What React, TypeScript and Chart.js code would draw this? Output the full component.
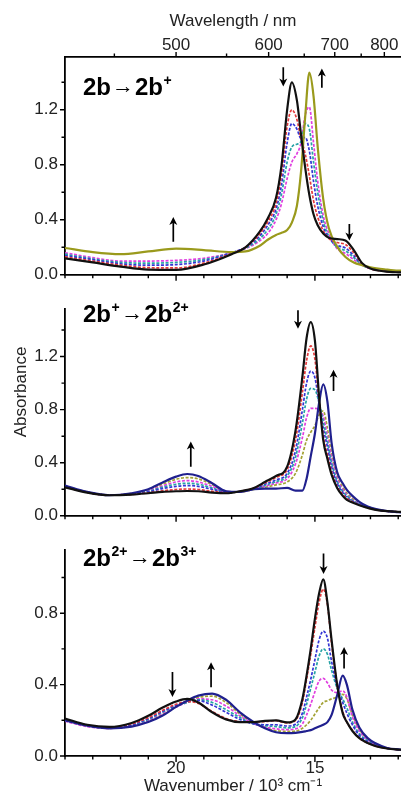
import React, { useEffect, useRef } from "react";
import { Chart, registerables } from "chart.js";

Chart.register(...registerables);

const FONT = "'Liberation Sans', Arial, Helvetica, sans-serif";

// ---------- axis ticks ----------
const xTickValues = [12, 13, 14, 15, 16, 17, 18, 19, 20, 21, 22, 23, 24];
const xTickLabels = [15, 20];
const wavelengthTicks = [450, 500, 550, 600, 650, 700, 750, 800];
const wavelengthLabels = [500, 600, 700, 800];
const yTicksTall = [0, 0.2, 0.4, 0.6, 0.8, 1.0, 1.2, 1.4];
const yLabelsTall = [0, 0.4, 0.8, 1.2];
const yTicksShort = [0, 0.2, 0.4, 0.6, 0.8, 1.0];
const yLabelsShort = [0, 0.4, 0.8];

// ---------- panel 1 : 2b -> 2b+ ----------
const wn1 = [24, 23, 22, 21, 20, 19, 18, 17.5, 17, 16.7, 16.4, 16.2, 16.0, 15.83, 15.65, 15.5, 15.35, 15.2, 15.05, 14.9, 14.7, 14.5, 14.2, 13.9, 13.6, 13.3, 13.0, 12.5, 12.0, 11.8];
const p1Black = [0.12, 0.09, 0.06, 0.038, 0.036, 0.075, 0.15, 0.2, 0.31, 0.41, 0.56, 0.8, 1.2, 1.4, 1.27, 1.02, 0.78, 0.58, 0.44, 0.36, 0.3, 0.27, 0.26, 0.25, 0.18, 0.085, 0.045, 0.025, 0.018, 0.017];
const p1Red = [0.13, 0.1, 0.07, 0.052, 0.05, 0.085, 0.155, 0.2, 0.295, 0.385, 0.52, 0.74, 1.08, 1.2, 1.13, 0.99, 0.88, 0.72, 0.54, 0.42, 0.32, 0.265, 0.235, 0.22, 0.16, 0.08, 0.045, 0.026, 0.019, 0.018];
const p1Blue = [0.14, 0.11, 0.08, 0.07, 0.074, 0.1, 0.16, 0.2, 0.28, 0.36, 0.48, 0.66, 0.96, 1.1, 1.06, 0.99, 1.0, 0.9, 0.68, 0.5, 0.35, 0.27, 0.215, 0.195, 0.14, 0.075, 0.045, 0.027, 0.02, 0.019];
const p1Teal = [0.15, 0.115, 0.09, 0.085, 0.09, 0.11, 0.16, 0.195, 0.26, 0.33, 0.44, 0.59, 0.82, 0.93, 0.95, 0.97, 1.1, 1.06, 0.82, 0.6, 0.39, 0.28, 0.2, 0.175, 0.125, 0.072, 0.046, 0.028, 0.021, 0.02];
const p1Magenta = [0.16, 0.125, 0.1, 0.1, 0.105, 0.12, 0.16, 0.19, 0.245, 0.3, 0.4, 0.52, 0.7, 0.82, 0.88, 0.96, 1.16, 1.22, 0.96, 0.68, 0.43, 0.3, 0.19, 0.155, 0.11, 0.07, 0.048, 0.03, 0.023, 0.022];
const p1Olive = [0.195, 0.165, 0.15, 0.17, 0.19, 0.18, 0.165, 0.17, 0.21, 0.255, 0.29, 0.305, 0.325, 0.38, 0.5, 0.75, 1.15, 1.47, 1.3, 0.93, 0.55, 0.34, 0.205, 0.13, 0.09, 0.07, 0.055, 0.04, 0.03, 0.03];

// ---------- panels 2 and 3 share a wavenumber grid ----------
const wn23 = [24, 23.2, 22.4, 21.6, 21, 20.5, 20, 19.6, 19.2, 18.7, 18.2, 17.7, 17.2, 16.8, 16.4, 16.0, 15.7, 15.45, 15.3, 15.15, 15.0, 14.85, 14.7, 14.55, 14.4, 14.2, 14.0, 13.85, 13.65, 13.4, 13.1, 12.8, 12.4, 12.0, 11.8];

// panel 2 : 2b+ -> 2b2+
const p2Black = [0.215, 0.175, 0.155, 0.16, 0.17, 0.18, 0.185, 0.187, 0.185, 0.175, 0.17, 0.185, 0.21, 0.255, 0.3, 0.37, 0.64, 1.05, 1.34, 1.46, 1.32, 0.9, 0.57, 0.43, 0.31, 0.21, 0.15, 0.12, 0.1, 0.08, 0.06, 0.045, 0.035, 0.03, 0.028];
const p2Red = [0.216, 0.176, 0.155, 0.161, 0.173, 0.188, 0.198, 0.202, 0.198, 0.185, 0.173, 0.184, 0.208, 0.248, 0.29, 0.35, 0.57, 0.93, 1.17, 1.28, 1.18, 0.87, 0.6, 0.46, 0.33, 0.22, 0.16, 0.13, 0.105, 0.082, 0.06, 0.045, 0.035, 0.03, 0.028];
const p2Blue = [0.218, 0.177, 0.155, 0.163, 0.18, 0.205, 0.222, 0.228, 0.222, 0.2, 0.178, 0.183, 0.205, 0.238, 0.27, 0.32, 0.49, 0.8, 1.0, 1.09, 1.04, 0.85, 0.66, 0.52, 0.37, 0.245, 0.175, 0.14, 0.11, 0.085, 0.062, 0.046, 0.035, 0.029, 0.027];
const p2Teal = [0.22, 0.178, 0.155, 0.165, 0.185, 0.215, 0.238, 0.245, 0.238, 0.21, 0.18, 0.182, 0.203, 0.23, 0.258, 0.3, 0.44, 0.7, 0.88, 0.96, 0.95, 0.85, 0.71, 0.56, 0.4, 0.26, 0.185, 0.15, 0.115, 0.088, 0.064, 0.047, 0.035, 0.029, 0.027];
const p2Magenta = [0.222, 0.179, 0.155, 0.167, 0.19, 0.225, 0.255, 0.265, 0.255, 0.222, 0.182, 0.181, 0.2, 0.223, 0.247, 0.28, 0.39, 0.59, 0.74, 0.81, 0.81, 0.8, 0.75, 0.6, 0.43, 0.28, 0.2, 0.16, 0.12, 0.092, 0.066, 0.048, 0.035, 0.028, 0.026];
const p2Olive = [0.224, 0.18, 0.155, 0.168, 0.195, 0.237, 0.275, 0.288, 0.278, 0.235, 0.184, 0.18, 0.198, 0.215, 0.233, 0.255, 0.32, 0.46, 0.57, 0.63, 0.68, 0.76, 0.79, 0.66, 0.46, 0.3, 0.215, 0.17, 0.13, 0.097, 0.068, 0.049, 0.035, 0.028, 0.026];
const p2Navy = [0.228, 0.18, 0.155, 0.17, 0.2, 0.25, 0.295, 0.315, 0.3, 0.245, 0.185, 0.18, 0.2, 0.205, 0.205, 0.21, 0.19, 0.19, 0.28, 0.45, 0.62, 0.85, 0.99, 0.86, 0.55, 0.33, 0.245, 0.195, 0.15, 0.105, 0.07, 0.05, 0.035, 0.028, 0.025];

// panel 3 : 2b2+ -> 2b3+
const p3Black = [0.21, 0.175, 0.163, 0.185, 0.225, 0.27, 0.305, 0.32, 0.3, 0.245, 0.205, 0.19, 0.19, 0.197, 0.2, 0.188, 0.205, 0.32, 0.45, 0.6, 0.77, 0.91, 0.99, 0.86, 0.65, 0.4, 0.24, 0.19, 0.14, 0.1, 0.073, 0.055, 0.042, 0.036, 0.034];
const p3Red = [0.205, 0.172, 0.16, 0.18, 0.215, 0.255, 0.29, 0.305, 0.295, 0.25, 0.21, 0.192, 0.19, 0.193, 0.198, 0.185, 0.2, 0.3, 0.43, 0.57, 0.72, 0.86, 0.935, 0.85, 0.63, 0.4, 0.25, 0.19, 0.145, 0.1, 0.073, 0.055, 0.042, 0.036, 0.034];
const p3Blue = [0.205, 0.172, 0.158, 0.175, 0.21, 0.25, 0.285, 0.305, 0.31, 0.285, 0.245, 0.205, 0.18, 0.175, 0.175, 0.168, 0.178, 0.24, 0.33, 0.43, 0.54, 0.65, 0.7, 0.66, 0.53, 0.39, 0.3, 0.24, 0.175, 0.115, 0.08, 0.058, 0.043, 0.036, 0.034];
const p3Teal = [0.2, 0.17, 0.157, 0.172, 0.205, 0.245, 0.28, 0.3, 0.315, 0.3, 0.26, 0.215, 0.18, 0.17, 0.165, 0.158, 0.165, 0.215, 0.29, 0.38, 0.47, 0.56, 0.6, 0.57, 0.48, 0.38, 0.32, 0.27, 0.19, 0.125, 0.085, 0.06, 0.043, 0.036, 0.034];
const p3Magenta = [0.195, 0.165, 0.155, 0.17, 0.2, 0.24, 0.275, 0.3, 0.32, 0.315, 0.28, 0.225, 0.18, 0.162, 0.152, 0.148, 0.152, 0.18, 0.23, 0.29, 0.36, 0.42, 0.435, 0.41, 0.37, 0.355, 0.365, 0.33, 0.22, 0.14, 0.09, 0.062, 0.044, 0.036, 0.034];
const p3Olive = [0.198, 0.168, 0.155, 0.168, 0.195, 0.232, 0.275, 0.305, 0.328, 0.335, 0.3, 0.235, 0.185, 0.158, 0.142, 0.138, 0.14, 0.155, 0.175, 0.2, 0.235, 0.27, 0.3, 0.31, 0.32, 0.33, 0.345, 0.32, 0.23, 0.15, 0.095, 0.065, 0.045, 0.036, 0.034];
const p3Navy = [0.2, 0.17, 0.155, 0.165, 0.19, 0.225, 0.275, 0.31, 0.338, 0.35, 0.315, 0.245, 0.19, 0.155, 0.133, 0.128, 0.13, 0.135, 0.14, 0.145, 0.155, 0.165, 0.175, 0.19, 0.23, 0.34, 0.45, 0.4, 0.26, 0.16, 0.1, 0.07, 0.045, 0.037, 0.035];

// ---------- change arrows (wavenumber, absorbance from -> to) ----------
const p1Arrows = [
  { x: 16.14, from: 1.51, to: 1.37 },
  { x: 14.75, from: 1.36, to: 1.5 },
  { x: 13.76, from: 0.37, to: 0.25 },
  { x: 20.1, from: 0.24, to: 0.42 },
];
const p2Arrows = [
  { x: 15.61, from: 1.55, to: 1.41 },
  { x: 14.33, from: 0.94, to: 1.1 },
  { x: 19.47, from: 0.37, to: 0.56 },
];
const p3Arrows = [
  { x: 14.69, from: 1.135, to: 1.02 },
  { x: 13.95, from: 0.49, to: 0.61 },
  { x: 20.13, from: 0.47, to: 0.33 },
  { x: 18.74, from: 0.385, to: 0.525 },
];

// panel titles: [main text, superscript] pairs around an arrow
const p1Title = [["2b", ""], ["2b", "+"]];
const p2Title = [["2b", "+"], ["2b", "2+"]];
const p3Title = [["2b", "2+"], ["2b", "3+"]];

const C = {
  black: "#111111",
  red: "#e33a3c",
  blue: "#3434d4",
  teal: "#27a3a6",
  magenta: "#e03ee0",
  olive: "#a3a235",
  oliveSolid: "#9a9a1c",
  navy: "#20208e",
};

type Series = { data: number[]; color: string; dash: boolean; width: number };
type Arrow = { x: number; from: number; to: number };
type PanelCfg = {
  top: number;
  height: number;
  padTop: number;
  topAxis: boolean;
  topH: number;
  bottomH: number;
  bottomLabels: boolean;
  yMax: number;
  yTicks: number[];
  yLabels: number[];
  wn: number[];
  series: Series[];
  arrows: Arrow[];
  title: string[][];
  titleX: number;
  titleY: number;
  yTitle: boolean;
};

const solid = (data: number[], color: string, width = 2.2): Series => ({ data, color, dash: false, width });
const dashed = (data: number[], color: string): Series => ({ data, color, dash: true, width: 1.7 });

const panels: PanelCfg[] = [
  {
    top: 0, height: 292, padTop: 0, topAxis: true, topH: 57, bottomH: 8, bottomLabels: false,
    yMax: 1.584, yTicks: yTicksTall, yLabels: yLabelsTall, wn: wn1,
    series: [solid(p1Black, C.black), solid(p1Olive, C.oliveSolid), dashed(p1Red, C.red), dashed(p1Blue, C.blue), dashed(p1Teal, C.teal), dashed(p1Magenta, C.magenta)],
    arrows: p1Arrows, title: p1Title, titleX: 83, titleY: 95, yTitle: false,
  },
  {
    top: 292, height: 241, padTop: 6, topAxis: false, topH: 0, bottomH: 8, bottomLabels: false,
    yMax: 1.557, yTicks: yTicksTall, yLabels: yLabelsTall, wn: wn23,
    series: [solid(p2Black, C.black), solid(p2Navy, C.navy), dashed(p2Red, C.red), dashed(p2Blue, C.blue), dashed(p2Teal, C.teal), dashed(p2Magenta, C.magenta), dashed(p2Olive, C.olive)],
    arrows: p2Arrows, title: p2Title, titleX: 83, titleY: 30, yTitle: true,
  },
  {
    top: 533, height: 265, padTop: 4, topAxis: false, topH: 0, bottomH: 42, bottomLabels: true,
    yMax: 1.153, yTicks: yTicksShort, yLabels: yLabelsShort, wn: wn23,
    series: [solid(p3Black, C.black), solid(p3Navy, C.navy), dashed(p3Red, C.red), dashed(p3Blue, C.blue), dashed(p3Teal, C.teal), dashed(p3Magenta, C.magenta), dashed(p3Olive, C.olive)],
    arrows: p3Arrows, title: p3Title, titleX: 83, titleY: 33, yTitle: false,
  },
];

const near = (a: number, list: number[]) => list.some((b) => Math.abs(a - b) < 1e-6);

function drawArrow(ctx: CanvasRenderingContext2D, x: number, y1: number, y2: number) {
  const dir = y2 > y1 ? 1 : -1;
  const hl = 8;
  const hw = 4;
  ctx.beginPath();
  ctx.moveTo(x, y1);
  ctx.lineTo(x, y2 - dir * hl * 0.6);
  ctx.stroke();
  ctx.beginPath();
  ctx.moveTo(x, y2);
  ctx.lineTo(x - hw, y2 - dir * hl);
  ctx.lineTo(x, y2 - dir * hl * 0.72);
  ctx.lineTo(x + hw, y2 - dir * hl);
  ctx.closePath();
  ctx.fill();
}

function makePlugin(cfg: PanelCfg) {
  return {
    id: "decor",
    afterDraw(chart: any) {
      const ctx: CanvasRenderingContext2D = chart.ctx;
      const xs = chart.scales.x;
      const ys = chart.scales.y;
      const area = chart.chartArea;
      ctx.save();
      ctx.strokeStyle = "#000";
      ctx.fillStyle = "#000";
      ctx.lineWidth = 1.4;
      // tick marks
      ctx.beginPath();
      for (const v of xTickValues) {
        const px = xs.getPixelForValue(v);
        if (px < area.left - 1 || px > area.right + 1) continue;
        const len = near(v, xTickLabels) ? 6 : 3.5;
        ctx.moveTo(px, area.bottom);
        ctx.lineTo(px, area.bottom + len);
      }
      for (const v of cfg.yTicks) {
        const py = ys.getPixelForValue(v);
        const len = near(v, cfg.yLabels) ? 5 : 3.5;
        ctx.moveTo(area.left, py);
        ctx.lineTo(area.left - len, py);
      }
      if (cfg.topAxis) {
        for (const nm of wavelengthTicks) {
          const px = xs.getPixelForValue(10000 / nm);
          const len = near(nm, wavelengthLabels) ? 5 : 3.5;
          ctx.moveTo(px, area.top);
          ctx.lineTo(px, area.top - len);
        }
      }
      ctx.stroke();
      // arrows
      ctx.lineWidth = 1.7;
      ctx.save();
      ctx.beginPath();
      ctx.rect(area.left, area.top - 2, area.right - area.left, area.bottom - area.top + 2);
      ctx.clip();
      for (const a of cfg.arrows) {
        drawArrow(ctx, xs.getPixelForValue(a.x), ys.getPixelForValue(a.from), ys.getPixelForValue(a.to));
      }
      ctx.restore();
      // panel title
      let cx = cfg.titleX;
      const by = cfg.titleY;
      ctx.textBaseline = "alphabetic";
      ctx.textAlign = "left";
      cfg.title.forEach((part, i) => {
        if (i > 0) {
          ctx.font = `22px ${FONT}`;
          ctx.fillText("\u2192", cx + 1, by - 2);
          cx += ctx.measureText("\u2192").width + 2;
        }
        ctx.font = `bold 24px ${FONT}`;
        ctx.fillText(part[0], cx, by);
        cx += ctx.measureText(part[0]).width;
        if (part[1]) {
          ctx.font = `bold 14px ${FONT}`;
          ctx.fillText(part[1], cx + 0.5, by - 10);
          cx += ctx.measureText(part[1]).width + 1;
        }
      });
      if (cfg.yTitle) {
        ctx.save();
        ctx.translate(21, 392 - cfg.top);
        ctx.rotate(-Math.PI / 2);
        ctx.textAlign = "center";
        ctx.textBaseline = "middle";
        ctx.font = `17px ${FONT}`;
        ctx.fillStyle = "#222";
        ctx.fillText("Absorbance", 0, 0);
        ctx.restore();
      }
      ctx.restore();
    },
  };
}

function buildOptions(cfg: PanelCfg): any {
  const tickFont = { family: FONT, size: 17 };
  const scales: any = {
    x: {
      type: "linear",
      position: "bottom",
      min: 11.9,
      max: 24,
      reverse: true,
      afterBuildTicks: (s: any) => {
        s.ticks = xTickValues.map((v) => ({ value: v }));
      },
      afterFit: (s: any) => {
        s.height = cfg.bottomH;
      },
      ticks: {
        display: cfg.bottomLabels,
        autoSkip: false,
        maxRotation: 0,
        padding: 2,
        color: "#222",
        font: tickFont,
        callback: (v: number) => (near(v, xTickLabels) ? String(v) : ""),
      },
      grid: { display: false, drawTicks: false },
      border: { display: true, color: "#000", width: 1.8 },
      title: {
        display: cfg.bottomLabels,
        text: "Wavenumber / 10\u00b3 cm\u207b\u00b9",
        color: "#222",
        font: { family: FONT, size: 17 },
        padding: { top: 0, bottom: 1 },
      },
    },
    y: {
      type: "linear",
      position: "left",
      min: 0,
      max: cfg.yMax,
      afterBuildTicks: (s: any) => {
        s.ticks = cfg.yTicks.map((v) => ({ value: v }));
      },
      afterFit: (s: any) => {
        s.width = 65;
      },
      ticks: {
        autoSkip: false,
        padding: 7,
        color: "#222",
        font: tickFont,
        callback: (v: number) => (near(v, cfg.yLabels) ? v.toFixed(1) : ""),
      },
      grid: { display: false, drawTicks: false },
      border: { display: true, color: "#000", width: 1.8 },
    },
  };
  if (cfg.topAxis) {
    scales.x2 = {
      type: "linear",
      position: "top",
      min: 11.9,
      max: 24,
      reverse: true,
      afterBuildTicks: (s: any) => {
        s.ticks = wavelengthTicks.map((nm) => ({ value: 10000 / nm }));
      },
      afterFit: (s: any) => {
        s.height = cfg.topH;
      },
      ticks: {
        autoSkip: false,
        maxRotation: 0,
        padding: 1,
        color: "#222",
        font: tickFont,
        callback: (v: number) => {
          const nm = Math.round(10000 / v);
          return near(nm, wavelengthLabels) ? String(nm) : "";
        },
      },
      grid: { display: false, drawTicks: false },
      border: { display: true, color: "#000", width: 1.8 },
      title: {
        display: true,
        text: "Wavelength / nm",
        color: "#222",
        font: { family: FONT, size: 17 },
        padding: { top: 11, bottom: 0 },
      },
    };
  }
  return {
    responsive: false,
    animation: false,
    layout: { padding: { top: cfg.padTop, left: 0, right: 0, bottom: 0 } },
    plugins: { legend: { display: false }, tooltip: { enabled: false } },
    elements: { point: { radius: 0 } },
    scales,
  };
}

function Panel({ cfg }: { cfg: PanelCfg }) {
  const ref = useRef<HTMLCanvasElement | null>(null);
  useEffect(() => {
    if (!ref.current) return;
    const datasets = cfg.series.map((s) => ({
      data: cfg.wn.map((w, i) => ({ x: w, y: s.data[i] })),
      borderColor: s.color,
      borderWidth: s.width,
      borderDash: s.dash ? [3, 1.6] : [],
      fill: false,
      pointRadius: 0,
      cubicInterpolationMode: "monotone",
      xAxisID: "x",
      yAxisID: "y",
    }));
    const chart = new Chart(ref.current, {
      type: "line",
      data: { datasets } as any,
      options: buildOptions(cfg),
      plugins: [makePlugin(cfg)],
    });
    return () => chart.destroy();
  }, [cfg]);
  return (
    <div style={{ position: "absolute", left: 0, top: cfg.top, width: 401, height: cfg.height }}>
      <canvas ref={ref} width={401} height={cfg.height} style={{ width: 401, height: cfg.height, display: "block" }} />
    </div>
  );
}

export default function App() {
  return (
    <div style={{ position: "absolute", left: 0, top: 0, width: 401, height: 798, background: "#fff", overflow: "hidden" }}>
      {panels.map((p, i) => (
        <Panel key={i} cfg={p} />
      ))}
    </div>
  );
}
